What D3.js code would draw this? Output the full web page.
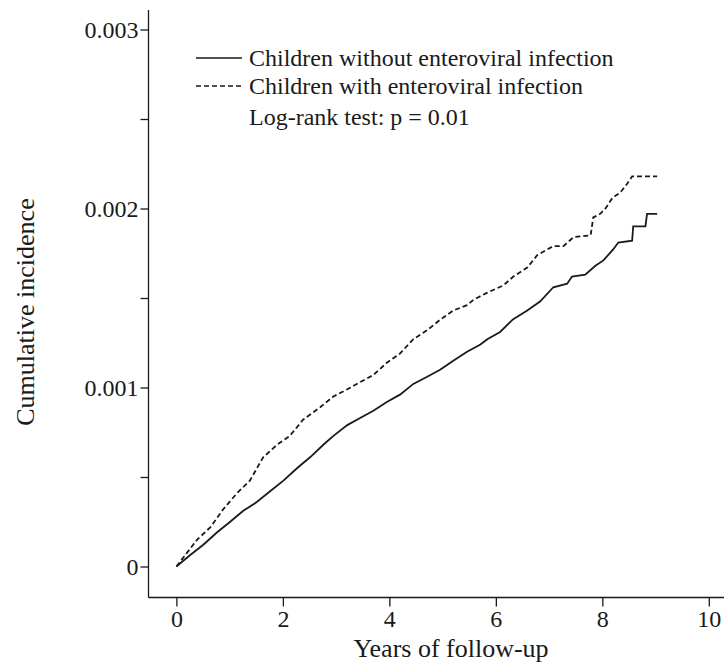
<!DOCTYPE html>
<html>
<head>
<meta charset="utf-8">
<script src="https://cdn.jsdelivr.net/npm/d3@7"></script>
<style>
  body { margin: 0; background: #fff; }
  svg { display: block; }
  svg text { font-family: "Liberation Serif", "Times New Roman", serif; }
</style>
</head>
<body>
<svg id="chart" width="724" height="664"></svg>
<script>
// ---- Data ----
const xTicks = [0, 2, 4, 6, 8, 10];
const yMajorTicks = [0, 0.001, 0.002, 0.003];
const yMinorTicks = [0.0005, 0.0015, 0.0025];
const yTickLabels = ["0", "0.001", "0.002", "0.003"];

const seriesNames = ["Children without enteroviral infection", "Children with enteroviral infection"];
const testLabel = "Log-rank test: p = 0.01";

const withoutYears = [0, 0.26, 0.50, 0.76, 1.01, 1.25, 1.51, 1.76, 2.01, 2.27, 2.51, 2.76, 2.95, 3.21, 3.45, 3.70, 3.96, 4.20, 4.45, 4.71, 4.96, 5.20, 5.46, 5.71, 5.84, 6.08, 6.32, 6.59, 6.83, 7.08, 7.34, 7.43, 7.68, 7.87, 8.02, 8.20, 8.30, 8.56, 8.58, 8.81, 8.84, 9.03];
const withoutValues = [0, 0.000064, 0.00012, 0.00019, 0.00025, 0.00031, 0.00036, 0.00042, 0.00048, 0.00055, 0.00061, 0.00068, 0.00073, 0.00079, 0.00083, 0.00087, 0.00092, 0.00096, 0.00102, 0.00106, 0.00110, 0.00115, 0.00120, 0.00124, 0.00127, 0.00131, 0.00138, 0.00143, 0.00148, 0.00156, 0.00158, 0.00162, 0.00163, 0.00168, 0.00171, 0.00177, 0.00181, 0.00182, 0.00190, 0.00190, 0.00197, 0.00197];

const withYears = [0, 0.13, 0.39, 0.64, 0.88, 1.14, 1.38, 1.63, 1.89, 2.13, 2.38, 2.70, 2.95, 3.21, 3.45, 3.70, 3.96, 4.20, 4.45, 4.71, 4.96, 5.20, 5.46, 5.58, 5.84, 6.14, 6.33, 6.59, 6.78, 7.08, 7.27, 7.46, 7.78, 7.83, 7.96, 8.06, 8.19, 8.34, 8.47, 8.56, 9.03];
const withValues = [0, 0.00005, 0.00015, 0.00022, 0.00032, 0.00041, 0.00048, 0.00061, 0.00068, 0.00073, 0.00082, 0.00089, 0.00095, 0.00099, 0.00103, 0.00107, 0.00114, 0.00119, 0.00127, 0.00132, 0.00138, 0.00143, 0.00146, 0.00149, 0.00153, 0.00157, 0.00162, 0.00167, 0.00174, 0.00179, 0.00179, 0.00184, 0.00185, 0.00195, 0.00197, 0.00200, 0.00206, 0.00209, 0.00214, 0.00218, 0.00218];

// ---- Layout ----
const svg = d3.select("#chart");
const ink = "#1a1a1a";
const serif = "Liberation Serif";
const axisX = 148.5, axisY = 597.5;

const x = d3.scaleLinear().domain([0, 10]).range([176.4, 708.8]);
const y = d3.scaleLinear().domain([0, 0.003]).range([566.5, 29.5]);

// Axis lines
svg.append("line").attr("x1", axisX).attr("x2", axisX).attr("y1", 10).attr("y2", axisY)
  .attr("stroke", ink).attr("stroke-width", 1.3);
svg.append("line").attr("x1", axisX).attr("x2", 724).attr("y1", axisY).attr("y2", axisY)
  .attr("stroke", ink).attr("stroke-width", 1.3);

// Y ticks
const yAxis = d3.axisLeft(y).tickValues(yMajorTicks.concat(yMinorTicks)).tickSize(8).tickPadding(2)
  .tickFormat(d => { const i = yMajorTicks.indexOf(d); return i >= 0 ? yTickLabels[i] : ""; });
const gy = svg.append("g").attr("transform", `translate(${axisX},0)`).call(yAxis)
  .attr("font-family", serif);
gy.select(".domain").remove();
gy.selectAll("line").attr("stroke", ink).attr("stroke-width", 1.3);
gy.selectAll("text").attr("font-size", 24).attr("fill", ink).style("font-family", serif);

// X ticks
const xAxis = d3.axisBottom(x).tickValues(xTicks).tickSize(9).tickPadding(3).tickFormat(d3.format("d"));
const gx = svg.append("g").attr("transform", `translate(0,${axisY})`).call(xAxis)
  .attr("font-family", serif);
gx.select(".domain").remove();
gx.selectAll("line").attr("stroke", ink).attr("stroke-width", 1.3);
gx.selectAll("text").attr("font-size", 24).attr("fill", ink).style("font-family", serif);

// Axis titles
svg.append("text").attr("x", 451).attr("y", 657).attr("text-anchor", "middle")
  .attr("font-size", 26).attr("fill", ink).style("font-family", serif).text("Years of follow-up");
svg.append("text").attr("transform", "translate(34,312) rotate(-90)").attr("text-anchor", "middle")
  .attr("font-size", 26).attr("fill", ink).style("font-family", serif).text("Cumulative incidence");

// Curves
const line = d3.line().x(d => x(d[0])).y(d => y(d[1])).curve(d3.curveLinear);
const withoutData = withoutYears.map((t, i) => [t, withoutValues[i]]);
const withData = withYears.map((t, i) => [t, withValues[i]]);

svg.append("path").datum(withoutData).attr("d", line)
  .attr("fill", "none").attr("stroke", ink).attr("stroke-width", 1.8);
svg.append("path").datum(withData).attr("d", line)
  .attr("fill", "none").attr("stroke", ink).attr("stroke-width", 1.8)
  .attr("stroke-dasharray", "5,3");

// Legend
const legend = svg.append("g");
const legendRows = [
  { label: seriesNames[0], dash: null, y: 58 },
  { label: seriesNames[1], dash: "5,3", y: 86 },
  { label: testLabel, dash: undefined, y: 117 }
];
legendRows.forEach(r => {
  if (r.dash !== undefined) {
    legend.append("line").attr("x1", 196).attr("x2", 242).attr("y1", r.y).attr("y2", r.y)
      .attr("stroke", ink).attr("stroke-width", 1.4)
      .attr("stroke-dasharray", r.dash);
  }
  legend.append("text").attr("x", 249).attr("y", r.y + 8).attr("font-size", 24).attr("fill", ink)
    .style("font-family", serif).text(r.label);
});
</script>
</body>
</html>
